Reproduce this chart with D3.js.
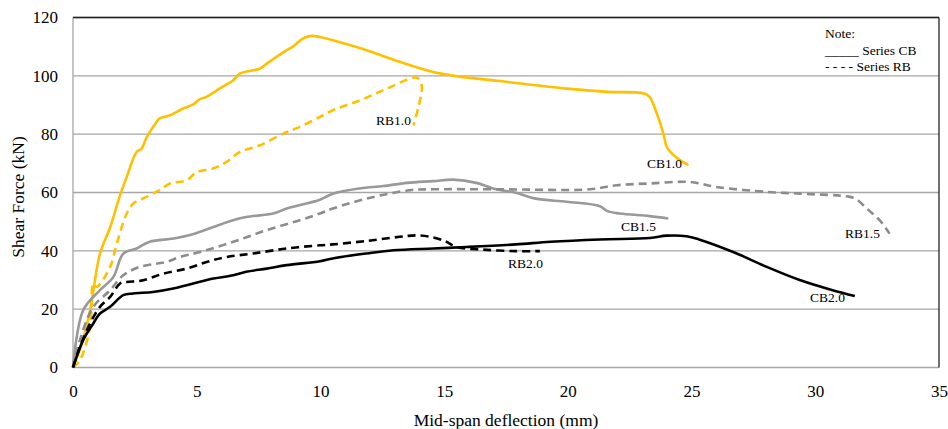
<!DOCTYPE html>
<html>
<head>
<meta charset="utf-8">
<script src="https://cdn.jsdelivr.net/npm/d3@7"></script>
<style>
  body { margin: 0; background: #fff; }
  text { font-family: "Liberation Serif", "Times New Roman", serif; fill: #000; }
</style>
</head>
<body>
<div id="chart"></div>
<script>
// x = mid-span deflection (mm), y = shear force (kN)
const cb10 = [[0,0],[0.35,8],[0.69,19.6],[1.09,39],[1.5,48],[1.9,59],[2.17,65.3],[2.57,73.9],[2.77,75],[2.98,79],
  [3.38,84.2],[3.5,85.4],[3.92,86.5],[4.45,88.8],[4.86,90.2],[5.13,92],[5.4,92.8],[5.94,95.7],[6.48,98.5],[6.75,100.8],
  [7.56,102.5],[7.83,104.2],[8.64,108.8],[8.9,110.1],[9.3,112.8],[9.65,113.7],[9.98,113.3],[10.5,112.2],[11.87,108.8],
  [13.2,104.8],[14.56,101.3],[15.5,99.9],[17.26,98.2],[19.96,95.6],[21.6,94.5],[23.05,94.0],[23.3,92.8],[23.6,87],
  [23.86,80.2],[24.0,75.6],[24.2,73.4],[24.53,71.1],[24.87,69.4]];
const rb10 = [[0,0],[0.28,2.5],[0.69,14],[0.82,28.8],[0.95,27.6],[1.5,34.5],[1.77,42.5],[2.17,52.8],[2.44,56.2],
  [2.97,58.5],[3.5,60.8],[3.92,63.1],[4.6,64.2],[5.0,67],[5.66,68.2],[6.21,70.5],[6.75,73.9],[7.56,76.2],[8.5,80.2],
  [9.17,82.5],[9.98,85.9],[10.5,88.2],[11.6,91.6],[12.68,95.6],[13.76,99.4],[13.96,99.1],[14.1,96.2],[13.96,89.3],[13.76,83]];
const cb15 = [[0,0],[0.41,19.6],[1.09,26.5],[1.63,31],[2.03,39],[2.57,40.8],[3.1,43.1],[4.05,44.2],[4.73,45.4],
  [5.67,48.2],[6.47,50.5],[7.0,51.6],[8.09,52.8],[8.64,54.5],[9.98,57.5],[10.5,59.6],[11.6,61.4],[12.54,62.2],
  [13.5,63.3],[14.56,63.9],[15.37,64.4],[16.3,63.3],[16.98,61.4],[17.9,59.9],[18.7,57.9],[19.96,56.8],[21.3,55.3],
  [21.6,53.6],[22.1,52.8],[23.3,51.9],[24.06,51.1]];
const rb15 = [[0,0],[0.28,9.4],[0.82,20.8],[1.5,26.5],[2.03,31.6],[2.7,34.5],[3.38,35.6],[3.79,36.2],[4.32,37.9],
  [5.13,39.6],[6.48,43.1],[7.83,47.1],[9.17,50.5],[9.98,52.8],[10.5,54.5],[11.87,57.9],[13.6,60.8],[14.56,61.1],
  [17.26,61.1],[20.9,61.1],[21.97,62.5],[23.3,63.1],[24.94,63.6],[26.0,61.9],[28.04,60.2],[29.4,59.6],[31.4,58.5],
  [31.68,57.6],[32.08,54.5],[32.6,50.5],[33.0,45.9]];
const cb20 = [[0,0],[0.41,9.4],[0.82,15.1],[1.09,18.5],[1.5,20.8],[2.03,24.8],[2.43,25.4],[3.23,25.9],[4.05,27.1],
  [4.86,28.8],[5.67,30.5],[6.48,31.6],[7.0,32.8],[7.83,33.9],[8.64,35.1],[9.98,36.4],[10.5,37.4],[11.87,39.1],
  [12.95,40.2],[14.56,40.8],[15.9,41.3],[17.9,42.2],[19.3,43.1],[21.3,43.9],[23.32,44.4],[23.99,45.2],[24.8,45.0],
  [25.3,43.9],[26.68,39.6],[28.04,34.5],[29.4,29.9],[30.7,26.5],[31.6,24.5]];
const rb20 = [[0,0],[0.28,7],[0.69,15.1],[1.09,20.8],[1.5,24.2],[1.9,28.8],[2.17,29.3],[2.84,29.9],[3.65,32.2],
  [4.59,33.9],[5.4,36.2],[6.21,37.9],[7.28,39.1],[8.64,40.8],[9.98,41.9],[10.5,42.2],[11.87,43.4],[13.2,44.8],
  [13.88,45.3],[14.56,44.6],[15.09,43.1],[15.5,41.3],[16.58,40.4],[17.9,39.9],[18.87,39.9]];

const xTicks = [0, 5, 10, 15, 20, 25, 30, 35];
const yTicks = [0, 20, 40, 60, 80, 100, 120];

const series = [
  { name: "CB1.0", data: cb10, color: "#ffc000", dash: null,  label: [647, 168] },
  { name: "RB1.0", data: rb10, color: "#ffc000", dash: "8,5", label: [376, 125] },
  { name: "CB1.5", data: cb15, color: "#999999", dash: null,  label: [621, 231] },
  { name: "RB1.5", data: rb15, color: "#8c8c8c", dash: "8,5", label: [845, 238] },
  { name: "CB2.0", data: cb20, color: "#000000", dash: null,  label: [810, 302] },
  { name: "RB2.0", data: rb20, color: "#000000", dash: "8,5", label: [508, 268] }
];

const W = 948, H = 429;
const m = { left: 73, top: 17.5, right: 9, bottom: 61.5 };
const w = W - m.left - m.right, h = H - m.top - m.bottom;

const svg = d3.select("#chart").append("svg").attr("width", W).attr("height", H);
const g = svg.append("g").attr("transform", `translate(${m.left},${m.top})`);

const x = d3.scaleLinear().domain([0, 35]).range([0, w]);
const y = d3.scaleLinear().domain([0, 120]).range([h, 0]);

// grid
g.selectAll(".grid").data(yTicks).enter().append("line")
  .attr("x1", 0).attr("x2", w)
  .attr("y1", d => y(d)).attr("y2", d => y(d))
  .attr("stroke", "#a6a6a6").attr("stroke-width", 1.3);

// frame
g.append("line").attr("x1", 0).attr("x2", 0).attr("y1", 0).attr("y2", h).attr("stroke", "#a6a6a6").attr("stroke-width", 1.3);
g.append("line").attr("x1", 0).attr("x2", w).attr("y1", 0).attr("y2", 0).attr("stroke", "#222").attr("stroke-width", 1.3);
g.append("line").attr("x1", w).attr("x2", w).attr("y1", 0).attr("y2", h).attr("stroke", "#222").attr("stroke-width", 1.3);

// axes
const xAxis = g.append("g").attr("transform", `translate(0,${h})`)
  .call(d3.axisBottom(x).tickValues(xTicks).tickSize(0).tickPadding(17));
const yAxis = g.append("g")
  .call(d3.axisLeft(y).tickValues(yTicks).tickSize(0).tickPadding(15));
[xAxis, yAxis].forEach(a => {
  a.select(".domain").remove();
  a.selectAll("text").attr("font-family", "Liberation Serif").attr("font-size", 17).attr("fill", "#000");
});

const line = d3.line()
  .x(d => x(d[0]))
  .y(d => y(d[1]))
  .curve(d3.curveCatmullRom.alpha(0.5));

g.selectAll(".series").data(series).enter().append("path")
  .attr("d", d => line(d.data))
  .attr("fill", "none")
  .attr("stroke", d => d.color)
  .attr("stroke-width", 2.6)
  .attr("stroke-dasharray", d => d.dash)
  .attr("stroke-linejoin", "round");

svg.selectAll(".lbl").data(series).enter().append("text")
  .attr("x", d => d.label[0]).attr("y", d => d.label[1])
  .attr("font-size", 13.5)
  .text(d => d.name);

// axis titles
svg.append("text").attr("x", m.left + w / 2 + 0).attr("y", 426)
  .attr("text-anchor", "middle").attr("font-size", 17.5)
  .text("Mid-span deflection (mm)");
svg.append("text")
  .attr("transform", "translate(24,197) rotate(-90)")
  .attr("text-anchor", "middle").attr("font-size", 17.5)
  .text("Shear Force (kN)");

// note
const note = svg.append("g").attr("font-size", 13.5);
note.append("text").attr("x", 825).attr("y", 38).text("Note:");
note.append("text").attr("x", 825).attr("y", 55).text("_____  Series CB");
note.append("text").attr("x", 825).attr("y", 71).text("- - - -  Series RB");
</script>
</body>
</html>
